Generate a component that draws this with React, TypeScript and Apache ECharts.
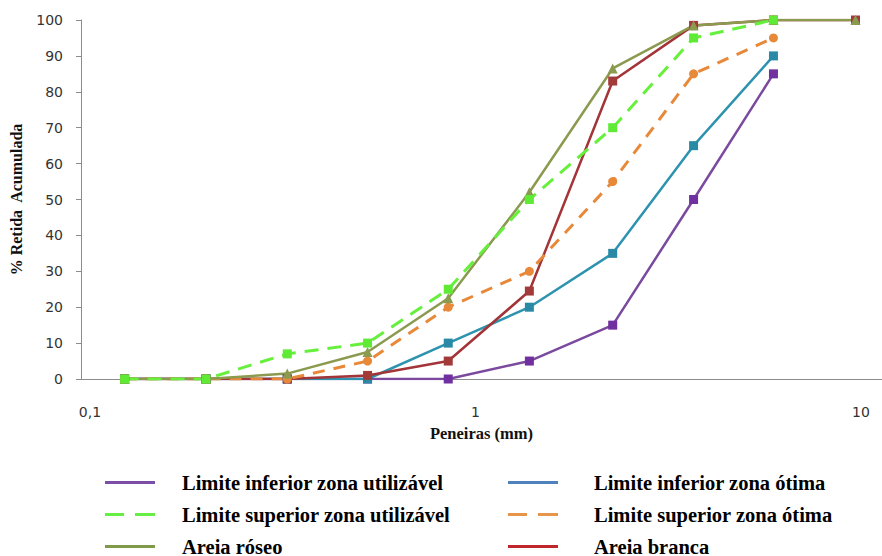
import React, { useEffect, useRef } from "react";
import * as echarts from "echarts";

const sieves = [0.123, 0.2, 0.325, 0.525, 0.85, 1.38, 2.27, 3.68, 5.93, 9.68];
const limInfUtil = [0, 0, 0, 0, 0, 5, 15, 50, 85];
const limInfOtima = [0, 0, 0, 0, 10, 20, 35, 65, 90];
const limSupUtil = [0, 0, 7, 10, 25, 50, 70, 95, 100];
const limSupOtima = [0, 0, 0, 5, 20, 30, 55, 85, 95];
const areiaRoseo = [0, 0, 1.5, 7.5, 22.5, 52, 86.5, 98.5, 100, 100];
const areiaBranca = [0, 0, 0, 1, 5, 24.5, 83, 98.5, 100, 100];

const names = [
  "Limite inferior zona utilizável",
  "Limite inferior zona ótima",
  "Limite superior zona utilizável",
  "Limite superior zona ótima",
  "Areia róseo",
  "Areia branca",
];

const pairs = (vals: number[]) => vals.map((v, i) => [sieves[i], v]);

const SOLID = "path://M0,0H50V3H0Z";
const DASHED = "path://M0,0H19V3H0ZM30,0H50V3H30Z";

export default function App() {
  const ref = useRef<HTMLDivElement>(null);
  useEffect(() => {
    const chart = echarts.init(ref.current!, null, { renderer: "svg" });
    const legendText = {
      fontFamily: "Liberation Serif",
      fontWeight: "bold" as const,
      fontSize: 20.5,
      lineHeight: 14,
      color: "#000",
    };
    chart.setOption({
      animation: false,
      backgroundColor: "#fff",
      grid: { left: 81, top: 20, right: 0, bottom: 177 },
      xAxis: {
        type: "log",
        logBase: 10,
        min: 0.0948,
        max: 11.34,
        name: "Peneiras (mm)",
        nameLocation: "middle",
        nameGap: 46,
        nameTextStyle: {
          fontFamily: "Liberation Serif",
          fontWeight: "bold",
          fontSize: 16.5,
          color: "#111",
        },
        axisLine: { lineStyle: { color: "#8c8c8c", width: 1 } },
        axisTick: { show: false },
        splitLine: { show: false },
        minorTick: { show: false },
        axisLabel: {
          showMinLabel: false,
          showMaxLabel: false,
          margin: 26,
          fontFamily: "DejaVu Sans",
          fontSize: 14,
          color: "#333",
          formatter: (v: number) => String(v).replace(".", ","),
        },
      },
      yAxis: {
        type: "value",
        min: 0,
        max: 100,
        interval: 10,
        name: "% Retida  Acumulada",
        nameLocation: "middle",
        nameGap: 57,
        nameRotate: 90,
        nameTextStyle: {
          fontFamily: "Liberation Serif",
          fontWeight: "bold",
          fontSize: 16,
          color: "#111",
        },
        axisLine: { show: true, lineStyle: { color: "#8c8c8c", width: 1 } },
        axisTick: { show: true, length: 5, lineStyle: { color: "#8c8c8c" } },
        splitLine: { show: false },
        axisLabel: {
          margin: 18,
          fontFamily: "DejaVu Sans",
          fontSize: 14,
          color: "#333",
        },
      },
      legend: [
        {
          orient: "vertical",
          left: 105,
          top: 472,
          height: 150,
          width: 380,
          padding: 0,
          itemWidth: 50,
          itemHeight: 3,
          itemGap: 11,
          textStyle: { ...legendText, padding: [0, 0, 0, 22] },
          data: [
            { name: names[0], icon: SOLID, itemStyle: { color: "#7B4FA8" } },
            { name: names[2], icon: DASHED, itemStyle: { color: "#66EE44" } },
            { name: names[4], icon: SOLID, itemStyle: { color: "#7F9A48" } },
          ],
        },
        {
          orient: "vertical",
          left: 508,
          top: 472,
          height: 150,
          width: 370,
          padding: 0,
          itemWidth: 52,
          itemHeight: 3,
          itemGap: 11,
          textStyle: { ...legendText, padding: [0, 0, 0, 30] },
          data: [
            { name: names[1], icon: SOLID, itemStyle: { color: "#4F81BD" } },
            { name: names[3], icon: DASHED, itemStyle: { color: "#E6954A" } },
            { name: names[5], icon: SOLID, itemStyle: { color: "#C0272D" } },
          ],
        },
      ],
      series: [
        {
          name: names[0],
          type: "line",
          data: pairs(limInfUtil),
          symbol: "rect",
          symbolSize: 9,
          lineStyle: { color: "#7B4A9E", width: 2.5 },
          itemStyle: { color: "#7030A0" },
        },
        {
          name: names[1],
          type: "line",
          data: pairs(limInfOtima),
          symbol: "rect",
          symbolSize: 9,
          lineStyle: { color: "#2E93AE", width: 2.5 },
          itemStyle: { color: "#2A8AA5" },
        },
        {
          name: names[5],
          type: "line",
          data: pairs(areiaBranca),
          symbol: "rect",
          symbolSize: 9,
          lineStyle: { color: "#A33437", width: 2.5 },
          itemStyle: { color: "#A33A3A" },
        },
        {
          name: names[3],
          type: "line",
          data: pairs(limSupOtima),
          symbol: "circle",
          symbolSize: 9,
          lineStyle: { color: "#E8893A", width: 3, type: [12, 9] },
          itemStyle: { color: "#E8893A" },
        },
        {
          name: names[4],
          type: "line",
          data: pairs(areiaRoseo),
          symbol: "triangle",
          symbolSize: 10,
          lineStyle: { color: "#8A9A4E", width: 2.5 },
          itemStyle: { color: "#8A9A4E" },
        },
        {
          name: names[2],
          type: "line",
          data: pairs(limSupUtil),
          symbol: "rect",
          symbolSize: 9,
          lineStyle: { color: "#66F03C", width: 3, type: [14, 9] },
          itemStyle: { color: "#5FEA35" },
        },
      ],
    });
    return () => chart.dispose();
  }, []);
  return (
    <div
      ref={ref}
      style={{ position: "fixed", left: 0, top: 0, width: 882, height: 556 }}
    />
  );
}
